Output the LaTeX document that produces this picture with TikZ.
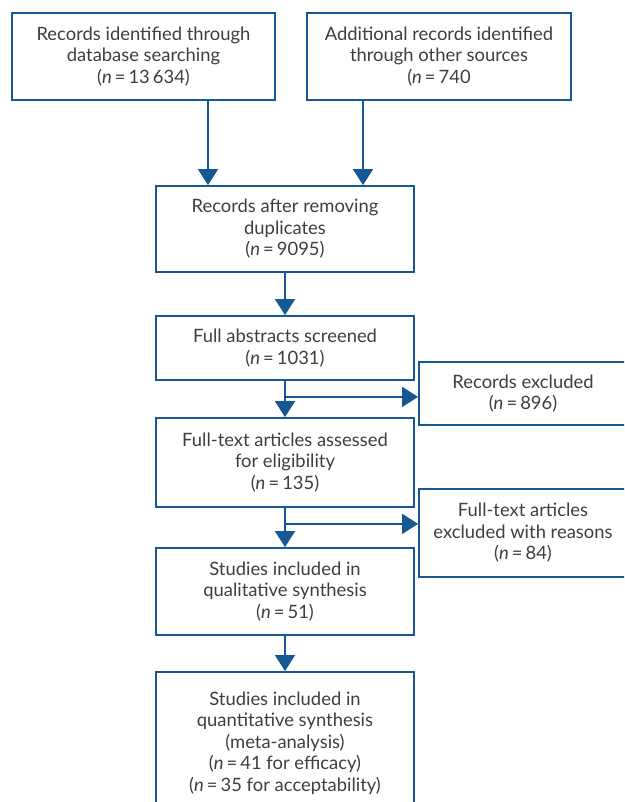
\documentclass[tikz,border=0pt]{standalone}
\usepackage{fontspec}
\setmainfont{Lato}
\usetikzlibrary{arrows.meta,calc}

\definecolor{flowblue}{RGB}{22,88,150}
\definecolor{flowtext}{RGB}{62,62,62}

\tikzset{
  box/.style={draw=flowblue, line width=1.8pt, align=center, inner sep=2pt,
    minimum width=258pt, text=flowtext, font=\fontsize{18.4}{21.5}\selectfont},
  sidebox/.style={box, minimum width=208pt},
  flow/.style={draw=flowblue, line width=1.8pt, -{Triangle[length=16pt,width=20pt]}},
}
\newcommand{\nis}{\textit{n}\,=\,}

\begin{document}
\begin{tikzpicture}[x=1pt,y=-1pt]
	\useasboundingbox (0,0) rectangle (624,802);
	\clip (0,0) rectangle (624,802);

	% identification
	\node[box, minimum width=263pt, minimum height=87pt] (db) at (143.5,56.5)
		{Records identified through\\database searching\\(\nis13\,634)};
	\node[box, minimum width=264pt, minimum height=87pt] (other) at (439,56.5)
		{Additional records identified\\through other sources\\(\nis740};

	% screening
	\node[box, minimum height=86pt] (dupl) at (285,229)
		{Records after removing\\duplicates\\(\nis9095)};
	\node[box, minimum height=64pt] (abstr) at (285,348)
		{Full abstracts screened\\(\nis1031)};
	\node[sidebox, minimum height=63pt] (excl) at (523,393.5)
		{Records excluded\\(\nis896)};

	% eligibility
	\node[box, minimum height=89pt] (full) at (285,462.5)
		{Full-text articles assessed\\for eligibility\\(\nis135)};
	\node[sidebox, minimum height=88pt] (exclr) at (523,533)
		{Full-text articles\\excluded with reasons\\(\nis84)};

	% included
	\node[box, minimum height=87pt] (qual) at (285,591.5)
		{Studies included in\\qualitative synthesis\\(\nis51)};
	\node[box, minimum height=142pt] (quant) at (285,743)
		{Studies included in\\quantitative synthesis\\(meta-analysis)\\(\nis41 for efficacy)\\(\nis35 for acceptability)};

	% connectors
	\coordinate (dbx) at (208,0);
	\coordinate (otherx) at (363,0);
	\draw[flow] (db.south -| dbx) -- (dupl.north -| dbx);
	\draw[flow] (other.south -| otherx) -- (dupl.north -| otherx);
	\draw[flow] (dupl) -- (abstr);

	\coordinate (split1) at ($(abstr.south)+(0,16)$);
	\draw[flow] (abstr) -- (full);
	\draw[flow] (split1) -- (split1 -| excl.west);

	\coordinate (split2) at ($(full.south)+(0,16)$);
	\draw[flow] (full) -- (qual);
	\draw[flow] (split2) -- (split2 -| exclr.west);

	\draw[flow] (qual) -- (quant);
\end{tikzpicture}
\end{document}
